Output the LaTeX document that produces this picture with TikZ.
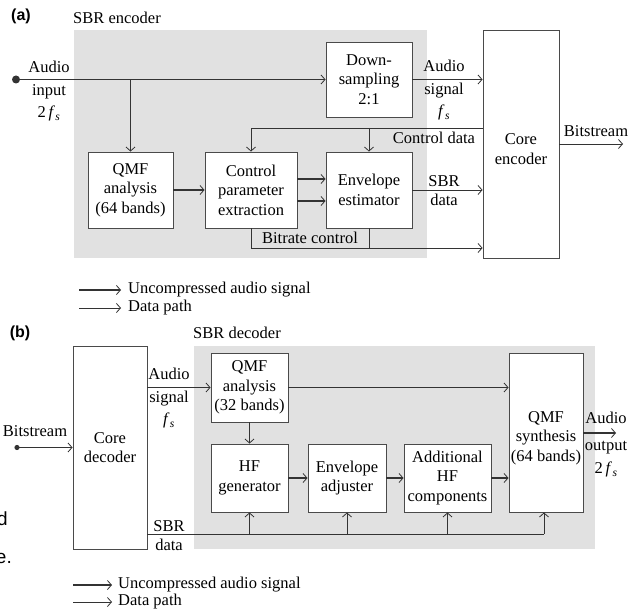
\documentclass[tikz,border=0pt]{standalone}
\usepackage{fontspec}
\setmainfont{Liberation Serif}
\newfontfamily\lsans{Liberation Sans}
\usetikzlibrary{arrows.meta}
\definecolor{linec}{HTML}{333333}
\definecolor{boxc}{HTML}{4A4A4A}
\definecolor{grayc}{HTML}{E1E1E1}
\newcommand{\fsub}{\textit{f}\kern0.5pt\textsubscript{\textit{s}}}
\tikzset{
  tip/.style={-{Straight Barb[length=4pt,width=9pt,line width=0.8pt]}},
  aud/.style={draw=linec, line width=1.3pt},
  dat/.style={draw=linec, line width=0.75pt},
  bg/.style={fill=grayc, draw=none, inner sep=0pt, anchor=north west},
  box/.style={draw=boxc, fill=white, line width=0.9pt, align=center, inner sep=0pt,
    font=\fontsize{16.5}{19.5}\selectfont},
  lab/.style={align=center, inner sep=0pt, font=\fontsize{16.5}{19.5}\selectfont},
  labw/.style={align=center, inner sep=0pt, font=\fontsize{16.5}{22.5}\selectfont},
  panel/.style={inner sep=0pt, font=\lsans\bfseries\fontsize{16}{16}\selectfont},
  frag/.style={inner sep=0pt, anchor=base east, font=\lsans\fontsize{19}{19}\selectfont}
}
\begin{document}
\begin{tikzpicture}[x=1pt,y=-1pt]
\useasboundingbox (0,0) rectangle (637,612);
\fill[white] (0,0) rectangle (637,612);

% ---------------- panel (a) ----------------
\node[panel] (pa) at (21,16) {(a)};
\node[lab] (ta) at (117,18) {SBR encoder};
\node[bg, minimum width=353pt, minimum height=228pt] (encreg) at (74,30) {};

\node[box, minimum width=86pt, minimum height=75pt] (down) at (369,79.5) {Down-\\sampling\\2:1};
\node[box, minimum width=85pt, minimum height=76pt] (qmfa) at (130.5,190) {QMF\\analysis\\(64 bands)};
\node[box, minimum width=92pt, minimum height=76pt] (cpe) at (251,190) {Control\\parameter\\extraction};
\node[box, minimum width=86pt, minimum height=76pt] (env) at (369,190) {Envelope\\estimator};
\node[box, minimum width=76pt, minimum height=228pt] (core) at (521,144) {};
\node[lab] (coretxt) at (521,149) {Core\\encoder};

\coordinate (ain) at (16,79.5);
\fill[linec] (ain) circle[radius=4pt];
\draw[aud,tip] (ain) -- (down.west);
\draw[aud,tip] (ain -| qmfa.north) -- (qmfa.north);
\draw[aud,tip] (qmfa.east) -- (cpe.west);
\draw[aud,tip] (cpe.east |- 0,179) -- (env.west |- 0,179);
\draw[aud,tip] (cpe.east |- 0,201) -- (env.west |- 0,201);
\draw[aud,tip] (down.east) -- (down.east -| core.west);
\draw[dat,tip] (core.west |- 0,128) -- (cpe.north |- 0,128) -- (cpe.north);
\draw[dat,tip] (env.north |- 0,128) -- (env.north);
\draw[dat,tip] (env.east) -- (env.east -| core.west);
\draw[dat,tip] (cpe.south) -- (cpe.south |- 0,248) -- (core.west |- 0,248);
\draw[dat] (env.south) -- (env.south |- 0,248);
\coordinate (bsout) at (623,144);
\draw[dat,tip] (core.east |- bsout) -- (bsout);

\node[labw] (l1) at (49,91.5) {Audio\\input\\2\,\fsub};
\node[labw] (l2) at (444,90.5) {Audio\\signal\\\fsub};
\node[lab] (l3) at (434,138) {Control data};
\node[lab] (l4) at (444,190.5) {SBR\\data};
\node[lab] (l5) at (310,238) {Bitrate control};
\node[lab] (l6) at (596,131) {Bitstream};

% legend (a)
\coordinate (ga1) at (79,290); \coordinate (ga2) at (121,290);
\draw[aud,tip] (ga1) -- (ga2);
\node[lab, anchor=west] (gt1) at (128,289.5) {Uncompressed audio signal};
\coordinate (ga3) at (79,308); \coordinate (ga4) at (121,308);
\draw[dat,tip] (ga3) -- (ga4);
\node[lab, anchor=west] (gt2) at (128,307.5) {Data path};

% ---------------- panel (b) ----------------
\node[panel] (pb) at (20,333) {(b)};
\node[lab] (tb) at (237,333) {SBR decoder};
\node[bg, minimum width=401pt, minimum height=203pt] (decreg) at (194,346) {};

\node[box, minimum width=74pt, minimum height=203pt] (cored) at (110,447.5) {Core\\decoder};
\node[box, minimum width=77pt, minimum height=69pt] (qmfa2) at (249.5,387.5) {QMF\\analysis\\(32 bands)};
\node[box, minimum width=77pt, minimum height=68pt] (hfg) at (249.5,478) {HF\\generator};
\node[box, minimum width=78pt, minimum height=68pt] (enva) at (347,478) {Envelope\\adjuster};
\node[box, minimum width=87pt, minimum height=68pt] (addhf) at (447.5,478) {Additional\\HF\\components};
\node[box, minimum width=74pt, minimum height=159pt] (qmfs) at (546,432.5) {};
\node[lab] (qmfstxt) at (546,438) {QMF\\synthesis\\(64 bands)};

\coordinate (bin) at (17,447.5);
\fill[linec] (bin) circle[radius=2.6pt];
\draw[dat,tip] (bin) -- (cored.west);
\draw[aud,tip] (cored.east |- qmfa2.west) -- (qmfa2.west);
\draw[aud,tip] (qmfa2.east) -- (qmfa2.east -| qmfs.west);
\draw[aud,tip] (qmfa2.south) -- (hfg.north);
\draw[aud,tip] (hfg.east) -- (enva.west);
\draw[aud,tip] (enva.east) -- (addhf.west);
\draw[aud,tip] (addhf.east) -- (addhf.east -| qmfs.west);
\coordinate (sbrend) at (544,534);
\draw[dat] (cored.east |- sbrend) -- (sbrend);
\draw[dat,tip] (sbrend) -- (sbrend |- qmfs.south);
\draw[dat,tip] (hfg.south |- sbrend) -- (hfg.south);
\draw[dat,tip] (enva.south |- sbrend) -- (enva.south);
\draw[dat,tip] (addhf.south |- sbrend) -- (addhf.south);
\coordinate (aout) at (616,433);
\draw[aud,tip] (qmfs.east |- aout) -- (aout);

\node[lab] (m1) at (35,431) {Bitstream};
\node[labw] (m2) at (169,398.5) {Audio\\signal\\\fsub};
\node[lab] (m3) at (169,535.5) {SBR\\data};
\node[inner sep=0pt, align=center, font=\fontsize{16.5}{23}\selectfont] (m4) at (606,444.5) {Audio\\[4pt]output\\2\,\fsub};

% legend (b)
\coordinate (gb1) at (73,585); \coordinate (gb2) at (112,585);
\draw[aud,tip] (gb1) -- (gb2);
\node[lab, anchor=west] (gt3) at (118,584.5) {Uncompressed audio signal};
\coordinate (gb3) at (73,602); \coordinate (gb4) at (112,602);
\draw[dat,tip] (gb3) -- (gb4);
\node[lab, anchor=west] (gt4) at (118,601.5) {Data path};

% cropped fragments at the left edge
\node[frag] (fr1) at (8,525) {d};
\node[frag] (fr2) at (12,563) {e.};
\end{tikzpicture}
\end{document}
